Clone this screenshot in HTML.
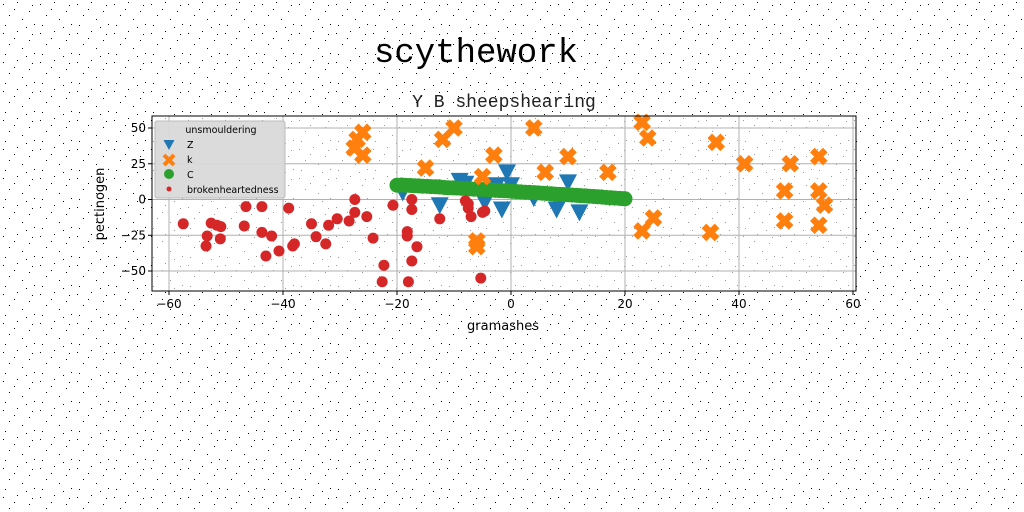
<!DOCTYPE html>
<html><head><meta charset="utf-8"><style>
html,body{margin:0;padding:0;background:#fff;}
svg{display:block;font-family:"DejaVu Sans","Liberation Sans",sans-serif;}
</style></head><body>
<svg id="chart" width="1024" height="512" viewBox="0 0 1024 512">
<defs>
<pattern id="noise" width="37" height="29" patternUnits="userSpaceOnUse">
<rect x="3" y="4" width="1" height="1" fill="#000"/><rect x="17" y="2" width="1" height="1" fill="#000"/>
<rect x="29" y="11" width="1" height="1" fill="#000"/><rect x="9" y="15" width="1" height="1" fill="#000"/>
<rect x="22" y="19" width="1" height="1" fill="#000"/><rect x="34" y="24" width="1" height="1" fill="#000"/>
<rect x="5" y="25" width="1" height="1" fill="#000"/><rect x="14" y="9" width="1" height="1" fill="#000"/>
<rect x="26" y="27" width="1" height="1" fill="#000"/><rect x="32" y="5" width="1" height="1" fill="#000"/>
</pattern>
</defs>
<rect width="1024" height="512" fill="#fff"/>
<rect width="1024" height="512" fill="url(#noise)"/>
<text x="476" y="62" text-anchor="middle" font-family="Liberation Mono, monospace" font-size="34" fill="#000">scythework</text>
<text x="504" y="107" text-anchor="middle" font-family="Liberation Mono, monospace" font-size="18" fill="#222">Y B sheepshearing</text>
<rect x="152" y="116" width="704" height="175" fill="#fff" fill-opacity="0.6"/>
<g id="grid"></g><g id="marks"></g><g id="axes"></g>
<text x="503" y="330" text-anchor="middle" font-size="13">gramashes</text>
<text transform="translate(104,204) rotate(-90)" text-anchor="middle" font-size="13">pectinogen</text>
<g>
<rect x="155" y="121" width="130" height="77" rx="2" fill="#d9d9d9" fill-opacity="0.95" stroke="#bbb"/>
<text x="221" y="133" text-anchor="middle" font-size="9.5">unsmouldering</text>
<g><path d="M163.5,140 L174.5,140 L169,150 Z" fill="#1f77b4"/><text x="187" y="148" font-size="9.5">Z</text></g>
<g><path d="M164,155 l10,10 M174,155 l-10,10" stroke="#ff7f0e" stroke-width="4"/><text x="187" y="163" font-size="9.5">k</text></g>
<g><circle cx="169" cy="174" r="5" fill="#2ca02c"/><text x="187" y="178" font-size="9.5">C</text></g>
<g><circle cx="169" cy="189" r="2.5" fill="#d62728"/><text x="187" y="193" font-size="9.5">brokenheartedness</text></g>
</g>
</svg>
<script>
const xTicks=[-60,-40,-20,0,20,40,60];
const yTicks=[-50,-25,0,25,50];
const zX=[-12.5,-1.6,-0.7,-9,-2.5,-4.6,-19,0,4,8,10,12,-8];
const zY=[-4,-7,19,13,10,-2,5,10,1,-7,12,-9,11];
const kX=[-27,-26,-26,-27.5,-15,-12,-10,-6,-6,-3,-5,4,6,10,17,23,24,23,25,36,35,41,48,48,49,54,54,55,54];
const kY=[42,47,31,36,22,42,50,-29,-33,31,16,50,19,30,19,54,43,-22,-13,40,-23,25,6,-15,25,30,6,-4,-18];
const cX=[-20,-19.2,-18.5,-17.7,-17,-16.2,-15.5,-14.7,-14,-13.2,-12.5,-11.7,-11,-10.2,-9.5,-8.7,-8,-7.2,-6.5,-5.7,-5,-4.2,-3.5,-2.7,-2,-1.2,-0.5,0.3,1,1.7,2.5,3.2,4,4.7,5.5,6.2,7,7.7,8.5,9.2,10,10.7,11.5,12.2,13,13.7,14.5,15.2,16,16.7,17.5,18.2,19,19.6,20];
const cY=[10,10.1,9.9,9.8,9.6,9.5,9.3,9.2,9,8.9,8.7,8.4,8.2,8.1,8,7.8,7.6,7.4,7.2,7.1,7,6.8,6.6,6.4,6.2,6.1,6,5.7,5.5,5.3,5.1,5,4.8,4.6,4.4,4.2,4,3.8,3.6,3.5,3.3,3.1,2.9,2.7,2.5,2.3,2.1,1.9,1.7,1.4,1.2,1,0.8,0.6,0.5];
const rX=[-57.5,-52.6,-51.6,-50.9,-53.3,-53.5,-51,-46.5,-43.7,-46.8,-43.7,-42,-43,-40.7,-39,-38,-38.3,-35,-34.2,-32.5,-32,-30.5,-28.4,-27.4,-27.4,-25.3,-24.2,-20.7,-22.3,-22.6,-17.4,-17.4,-18.2,-18.2,-16.5,-17.4,-18,-12.5,-8,-7.5,-7,-5,-4.6,-5.3,-7.5];
const rY=[-17,-16.5,-18,-19,-25.5,-32.5,-27.5,-5,-5,-18.5,-23,-25.5,-39.5,-36,-6,-31,-32.5,-17,-26,-31,-18,-13.5,-15,0,-9,-12,-27,-4,-46,-57.5,0,-7,-22.5,-25.5,-33,-43,-57.5,-13.5,-1,-6,-12,-9,-8,-55,-3];
const X0=152,X1=856,Y0=116,Y1=291;
const sx=v=>511+v*5.7;
const sy=v=>199.5-v*1.43;
const NS='http://www.w3.org/2000/svg';
function mk(tag,attrs,parent){const e=document.createElementNS(NS,tag);for(const k in attrs)e.setAttribute(k,attrs[k]);parent.appendChild(e);return e;}
const grid=document.getElementById('grid'),axes=document.getElementById('axes'),marks=document.getElementById('marks');
xTicks.forEach(t=>{
  const x=sx(t);
  const g=mk('line',{x1:x,x2:x,y1:Y0,y2:Y1,stroke:'#b0b0b0','stroke-width':1},grid);
  
  
  mk('line',{x1:x,x2:x,y1:Y1,y2:Y1+4,stroke:'#000'},axes);
  const tx=mk('text',{x:x,y:Y1+17,'text-anchor':'middle','font-size':12},axes);
  tx.textContent=t<0?'\u2212'+(-t):String(t);
  
  
});
yTicks.forEach(t=>{
  const y=sy(t);
  const g=mk('line',{x1:X0,x2:X1,y1:y,y2:y,stroke:'#b0b0b0','stroke-width':1},grid);
  
  
  mk('line',{x1:X0-4,x2:X0,y1:y,y2:y,stroke:'#000'},axes);
  const tx=mk('text',{x:X0-6,y:y+4,'text-anchor':'end','font-size':12},axes);
  tx.textContent=t<0?'\u2212'+(-t):String(t);
  
  
});
const frame=mk('rect',{x:X0,y:Y0,width:X1-X0,height:Y1-Y0,fill:'none',stroke:'#000','stroke-width':1},axes);


zX.forEach((v,i)=>{
  const x=sx(v),y=sy(zY[i]);
  const p=mk('path',{d:`M${x-9},${y-8} L${x+9},${y-8} L${x},${y+9} Z`,fill:'#1f77b4'},marks);
  
  
});
cX.forEach((v,i)=>{
  const c=mk('circle',{cx:sx(v),cy:sy(cY[i]),r:7.5,fill:'#2ca02c'},marks);
  
  
});
kX.forEach((v,i)=>{
  const x=sx(v),y=sy(kY[i]);
  const p=mk('path',{d:`M${x-6.5},${y-6.5} L${x+6.5},${y+6.5} M${x+6.5},${y-6.5} L${x-6.5},${y+6.5}`,stroke:'#ff7f0e','stroke-width':6.5},marks);
  
  
});
rX.forEach((v,i)=>{
  const c=mk('circle',{cx:sx(v),cy:sy(rY[i]),r:5.5,fill:'#d62728'},marks);
  
  
});
</script>
</body></html>
